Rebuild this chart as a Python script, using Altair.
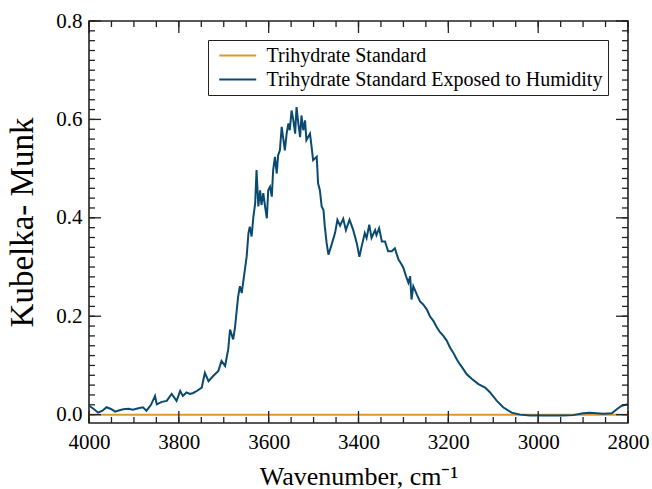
import altair as alt
import pandas as pd

# ---- data ----
wavenumber_humid = [4000, 3990, 3980, 3970, 3961, 3950, 3942, 3932, 3924, 3912, 3902, 3890, 3880, 3872,
                    3862, 3853, 3849, 3838, 3827, 3816, 3805, 3797, 3791, 3783, 3775, 3768, 3760, 3749,
                    3742, 3734, 3723, 3712, 3705, 3697, 3690, 3686, 3679, 3675, 3668, 3664, 3660, 3653,
                    3649, 3645, 3642, 3638, 3634, 3630, 3627, 3623, 3619, 3616, 3612, 3608, 3604, 3601,
                    3597, 3593, 3590, 3586, 3582, 3579, 3575, 3571, 3567, 3564, 3560, 3556, 3553, 3549,
                    3545, 3541, 3538, 3534, 3530, 3527, 3523, 3519, 3516, 3508, 3504, 3501, 3493, 3490,
                    3486, 3482, 3478, 3475, 3471, 3467, 3460, 3452, 3447, 3441, 3434, 3428, 3420, 3412,
                    3404, 3398, 3393, 3386, 3382, 3376, 3371, 3363, 3360, 3354, 3348, 3341, 3334, 3326,
                    3319, 3311, 3304, 3300, 3294, 3289, 3285, 3282, 3278, 3270, 3263, 3256, 3248, 3241,
                    3233, 3226, 3219, 3211, 3204, 3196, 3189, 3181, 3174, 3167, 3159, 3148, 3133, 3118,
                    3107, 3092, 3078, 3059, 3040, 3018, 2981, 2944, 2922, 2900, 2885, 2870, 2855, 2836,
                    2825, 2814, 2800]
km_humid = [0.018, 0.012, 0.004, 0.008, 0.015, 0.011, 0.006, 0.009, 0.011, 0.012, 0.010, 0.013, 0.015, 0.008,
            0.020, 0.038, 0.021, 0.026, 0.028, 0.042, 0.028, 0.048, 0.038, 0.045, 0.042, 0.044, 0.048, 0.055,
            0.085, 0.068, 0.079, 0.089, 0.109, 0.099, 0.133, 0.173, 0.153, 0.177, 0.240, 0.261, 0.247, 0.294,
            0.321, 0.369, 0.382, 0.362, 0.402, 0.430, 0.497, 0.423, 0.456, 0.426, 0.450, 0.423, 0.399, 0.456,
            0.463, 0.443, 0.497, 0.524, 0.490, 0.527, 0.537, 0.585, 0.558, 0.537, 0.571, 0.592, 0.578, 0.618,
            0.598, 0.571, 0.625, 0.592, 0.564, 0.608, 0.578, 0.598, 0.558, 0.571, 0.541, 0.517, 0.524, 0.470,
            0.456, 0.423, 0.416, 0.382, 0.349, 0.325, 0.345, 0.370, 0.396, 0.384, 0.398, 0.375, 0.396, 0.376,
            0.349, 0.321, 0.342, 0.369, 0.359, 0.386, 0.359, 0.375, 0.365, 0.379, 0.352, 0.352, 0.332, 0.332,
            0.338, 0.315, 0.305, 0.298, 0.281, 0.268, 0.281, 0.234, 0.261, 0.244, 0.230, 0.224, 0.214, 0.200,
            0.190, 0.178, 0.168, 0.160, 0.151, 0.136, 0.126, 0.112, 0.102, 0.093, 0.082, 0.073, 0.062, 0.055,
            0.045, 0.028, 0.015, 0.004, 0.000, -0.002, -0.002, -0.002, -0.001, 0.003, 0.004, 0.003, 0.002, 0.003,
            0.011, 0.018, 0.021]

wavenumber_std = [4000, 3600, 3200, 2800]
km_std = [0.0, 0.0, 0.0, 0.0]

series_names = ["Trihydrate Standard", "Trihydrate Standard Exposed to Humidity"]
series_colors = ["#DB9A2A", "#0B4A70"]

x_major = [4000, 3800, 3600, 3400, 3200, 3000, 2800]
x_minor = list(range(4000, 2799, -50))
y_major = [0.0, 0.2, 0.4, 0.6, 0.8]
y_minor = [round(i * 0.02, 2) for i in range(41)]

df = pd.concat([
    pd.DataFrame({"wavenumber": wavenumber_std, "km": km_std, "series": series_names[0]}),
    pd.DataFrame({"wavenumber": wavenumber_humid, "km": km_humid, "series": series_names[1]}),
], ignore_index=True)

FONT = "Liberation Serif"
INK = "#222222"
W, H = 539, 402
MAJOR, MINOR = 12, 6
TICK_W = 1.3

xscale = alt.Scale(domain=[2800, 4000], reverse=True, nice=False, zero=False)
yscale = alt.Scale(domain=[-0.017, 0.8], nice=False, zero=False)

x_axis = alt.Axis(orient="bottom", values=x_major, format="d", ticks=False, domain=False, grid=False,
                  labelFlush=False, labelFont=FONT, labelFontSize=21, labelColor="black",
                  labelPadding=8,
                  title="Wavenumber, cm⁻¹", titleFont=FONT, titleFontSize=26,
                  titleFontWeight="normal", titleColor="black", titlePadding=11)
y_axis = alt.Axis(orient="left", values=y_major, format=".1f", ticks=False, domain=False, grid=False,
                  labelFlush=False, labelFont=FONT, labelFontSize=21, labelColor="black",
                  labelPadding=7,
                  title="Kubelka- Munk", titleFont=FONT, titleFontSize=33,
                  titleFontWeight="normal", titleColor="black", titlePadding=16)

main = alt.Chart(df).mark_line(strokeWidth=2).encode(
    x=alt.X("wavenumber:Q", scale=xscale, axis=x_axis),
    y=alt.Y("km:Q", scale=yscale, axis=y_axis),
    color=alt.Color("series:N", scale=alt.Scale(domain=series_names, range=series_colors),
                    legend=alt.Legend(orient="none", legendX=119, legendY=19, title=None,
                                      labelFont=FONT, labelFontSize=20, labelColor="black", labelLimit=600,
                                      symbolType="M-0.46,0H3.54", symbolSize=342, symbolStrokeWidth=2,
                                      labelOffset=32.5, rowPadding=3, padding=5,
                                      strokeColor=INK, fillColor="white")),
)


def x_ticks(values, length, top):
    d = pd.DataFrame({"tick": values})
    y0, y1 = (0, length) if top else (H, H - length)
    return alt.Chart(d).mark_rule(color=INK, strokeWidth=TICK_W).encode(
        x=alt.X("tick:Q", scale=xscale, axis=x_axis),
        y=alt.value(y0), y2=alt.value(y1))


def y_ticks(values, length, right):
    d = pd.DataFrame({"tick": values})
    x0, x1 = (W, W - length) if right else (0, length)
    return alt.Chart(d).mark_rule(color=INK, strokeWidth=TICK_W).encode(
        y=alt.Y("tick:Q", scale=yscale, axis=y_axis),
        x=alt.value(x0), x2=alt.value(x1))


chart = alt.layer(
    main,
    x_ticks(x_minor, MINOR, False), x_ticks(x_major, MAJOR, False),
    x_ticks(x_minor, MINOR, True), x_ticks(x_major, MAJOR, True),
    y_ticks(y_minor, MINOR, False), y_ticks(y_major, MAJOR, False),
    y_ticks(y_minor, MINOR, True), y_ticks(y_major, MAJOR, True),
).properties(
    width=W, height=H,
    autosize=alt.AutoSizeParams(type="none"),
    padding={"left": 89, "top": 21, "right": 24, "bottom": 66},
    background="white",
).configure_view(
    stroke=INK, strokeWidth=1.6
)

chart.save("out.html", embed_options={"renderer": "svg", "actions": False})
